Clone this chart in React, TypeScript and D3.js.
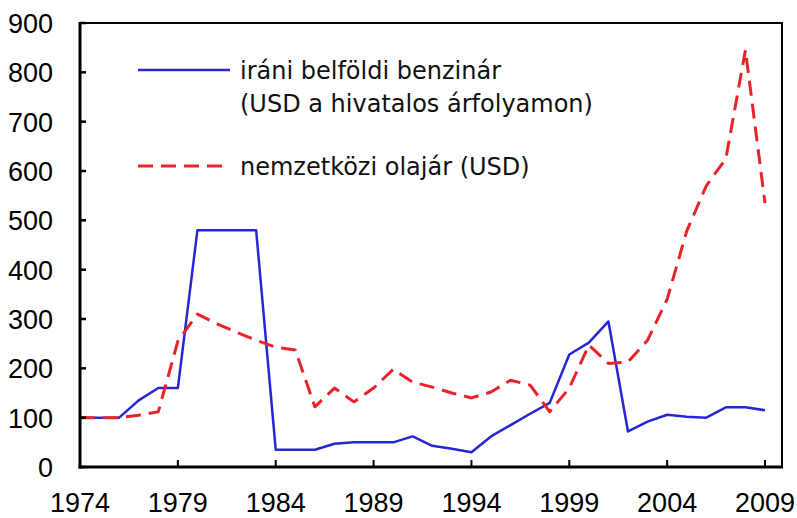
import * as d3 from "d3";

const years = d3.range(1974, 2010);

// iráni belföldi benzinár (USD a hivatalos árfolyamon), 1974 = 100
const gasoline = [
  100, 100, 100, 135, 160, 160, 480, 480, 480, 480,
  35, 35, 35, 47, 50, 50, 50, 62, 43, 37,
  30, 62, 85, 108, 130, 228, 252, 295, 72, 92,
  106, 102, 100, 121, 121, 115,
];

// nemzetközi olajár (USD), 1974 = 100
const oil = [
  100, 100, 100, 105, 112, 255, 310, 290, 273, 257,
  243, 237, 122, 160, 132, 160, 198, 172, 162, 150,
  140, 152, 176, 166, 112, 160, 247, 210, 213, 257,
  340, 478, 570, 625, 845, 535,
];

const yTicks = [0, 100, 200, 300, 400, 500, 600, 700, 800, 900];
const xTicks = [1974, 1979, 1984, 1989, 1994, 1999, 2004, 2009];

const legendItems = [
  { lines: ["iráni belföldi benzinár", "(USD a hivatalos árfolyamon)"], color: "#2626d4", dash: null },
  { lines: ["nemzetközi olajár (USD)"], color: "#e8242a", dash: "15,8" },
];

const W = 797;
const H = 518;
const left = 80;
const right = 782;
const top = 23;
const bottom = 467;

export default function App() {
  const x = d3.scaleLinear().domain([1974, 2009]).range([left, 765]);
  const y = d3.scaleLinear().domain([0, 900]).range([bottom, top]);

  const line = d3
    .line<number>()
    .x((_, i) => x(years[i]))
    .y((d) => y(d));

  return (
    <svg
      width={W}
      height={H}
      style={{ position: "absolute", left: 0, top: 0, background: "#fff" }}
    >
      {/* data lines */}
      <path d={line(gasoline) || ""} fill="none" stroke="#2626d4" strokeWidth={2.5} strokeLinejoin="round" />
      <path
        d={line(oil) || ""}
        fill="none"
        stroke="#e8242a"
        strokeWidth={3}
        strokeDasharray="15,8"
        strokeLinejoin="round"
      />

      {/* frame */}
      <rect x={left} y={top} width={right - left} height={bottom - top} fill="none" stroke="#000" strokeWidth={2} />
      <line x1={left} x2={left} y1={top - 1} y2={bottom + 1.5} stroke="#000" strokeWidth={3} />
      <line x1={left - 1.5} x2={right + 1} y1={bottom} y2={bottom} stroke="#000" strokeWidth={3} />

      {/* y axis */}
      {yTicks.map((t) => (
        <g key={t}>
          <line x1={left} x2={left + 6} y1={y(t)} y2={y(t)} stroke="#000" strokeWidth={2.5} />
          <text
            x={53}
            y={y(t) + 10}
            textAnchor="end"
            fontFamily="Liberation Sans, Arial, sans-serif"
            fontSize={27}
            fill="#000"
          >
            {t}
          </text>
        </g>
      ))}

      {/* x axis */}
      {xTicks.map((t) => (
        <g key={t}>
          <line x1={x(t)} x2={x(t)} y1={bottom} y2={bottom - 7} stroke="#000" strokeWidth={2} />
          <text
            x={x(t)}
            y={512}
            textAnchor="middle"
            fontFamily="Liberation Sans, Arial, sans-serif"
            fontSize={27}
            fill="#000"
          >
            {t}
          </text>
        </g>
      ))}

      {/* legend */}
      {legendItems.map((item, i) => {
        const ly = i === 0 ? 70 : 166;
        return (
          <g key={i}>
            <line
              x1={138}
              x2={230}
              y1={ly}
              y2={ly}
              stroke={item.color}
              strokeWidth={item.dash ? 3 : 2.5}
              strokeDasharray={item.dash || undefined}
            />
            {item.lines.map((s, j) => (
              <text
                key={j}
                x={240}
                y={ly + 9 + j * 33}
                fontFamily="DejaVu Sans, Verdana, sans-serif"
                fontSize={24}
                fill="#111"
              >
                {s}
              </text>
            ))}
          </g>
        );
      })}
    </svg>
  );
}
